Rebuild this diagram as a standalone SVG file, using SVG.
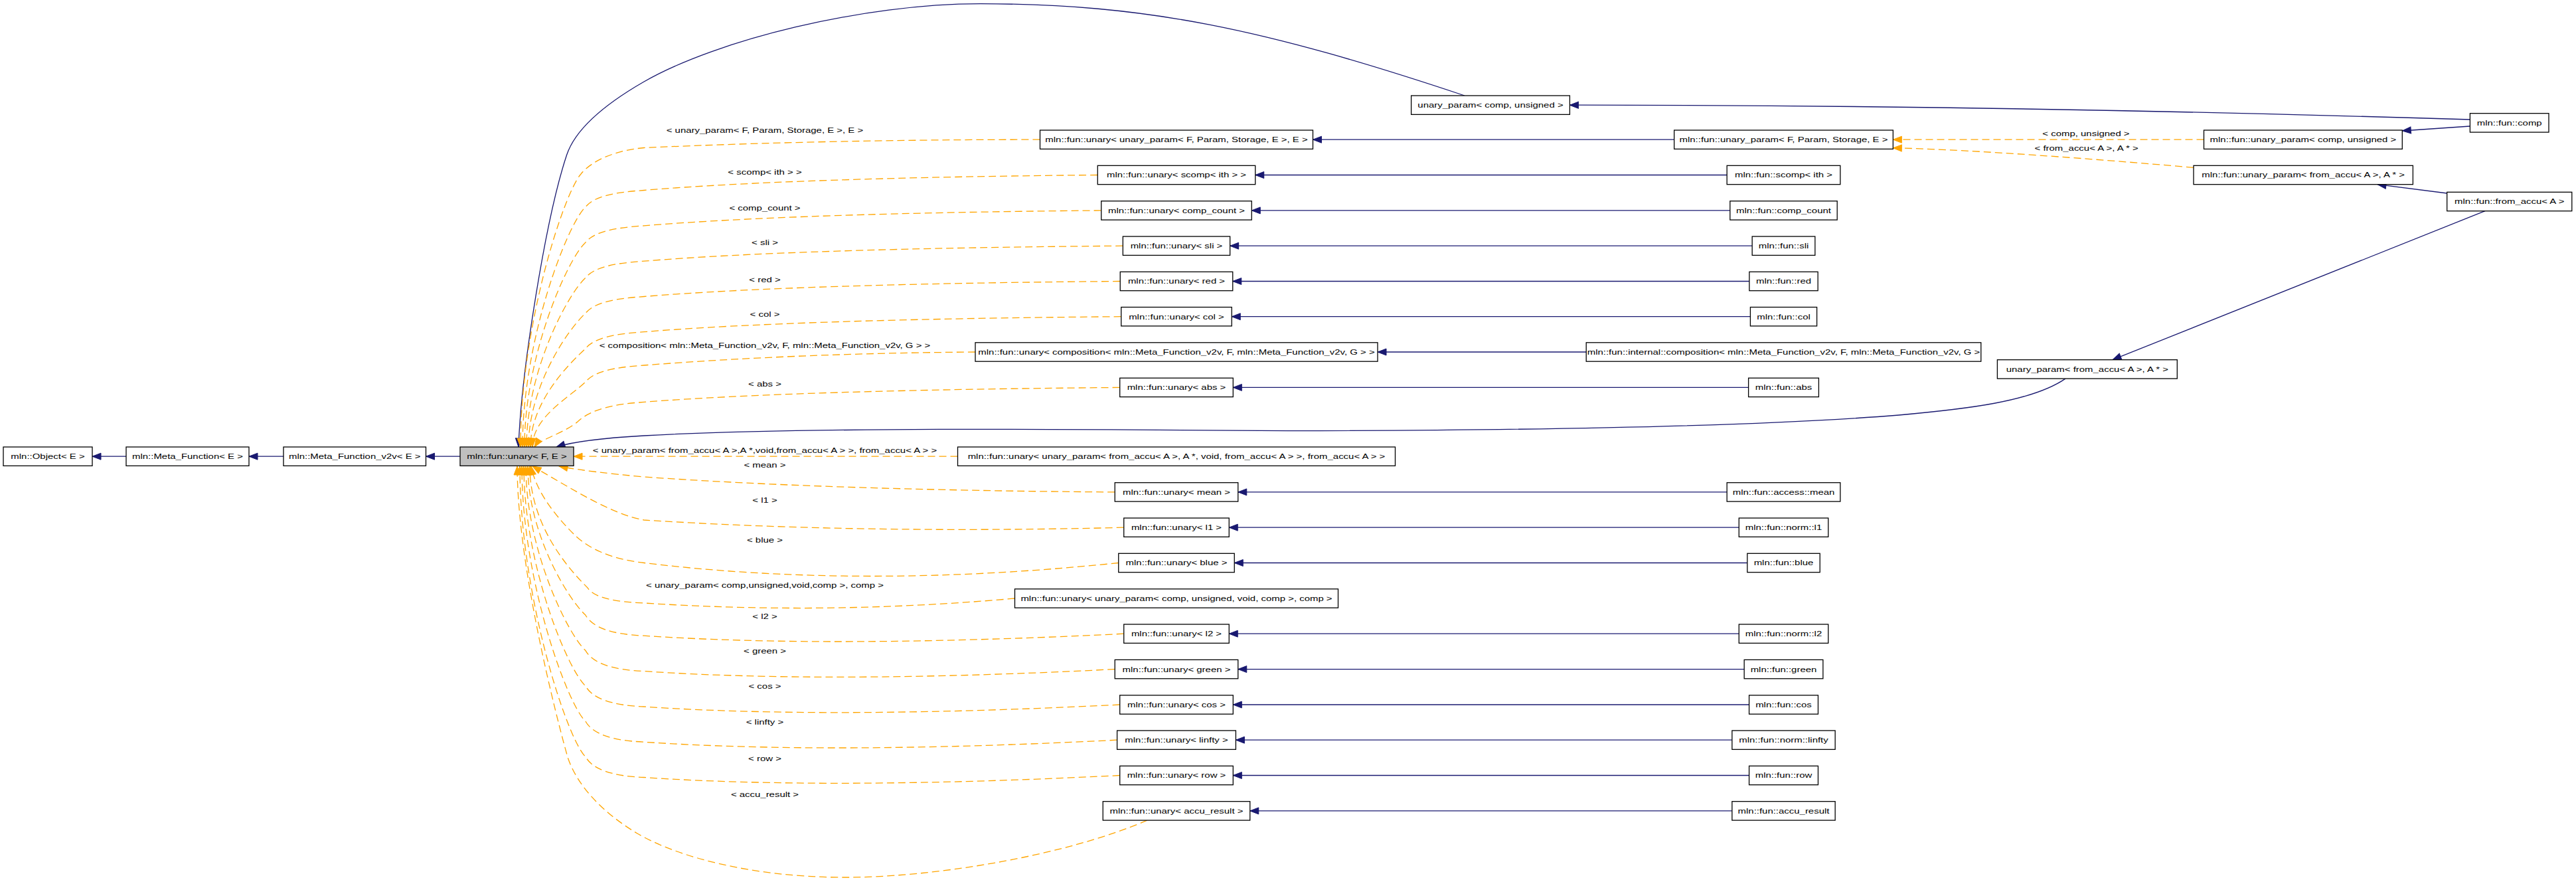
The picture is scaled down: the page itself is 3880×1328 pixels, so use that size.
<svg xmlns="http://www.w3.org/2000/svg" width="3880" height="1328" viewBox="0 0 3880 1328">
<style>
.n rect{fill:#fff;stroke:#000;stroke-width:1.3}
.g rect{fill:#bfbfbf;stroke:#000;stroke-width:1.3}
text{font-family:'Liberation Sans',Arial,sans-serif;font-size:11.5px;text-anchor:middle;fill:#000}
.eb{fill:none;stroke:#191970;stroke-width:1.3;marker-end:url(#mb)}
.eo{fill:none;stroke:#FFA500;stroke-width:1.3;stroke-dasharray:11,6;marker-end:url(#mo)}
</style>
<defs>
<marker id="mb" markerUnits="userSpaceOnUse" markerWidth="13" markerHeight="10" refX="13" refY="5" orient="auto" overflow="visible"><path d="M0,0 L13,5 L0,10 Z" fill="#191970" stroke="#191970" stroke-width="1"/></marker>
<marker id="mo" markerUnits="userSpaceOnUse" markerWidth="13" markerHeight="10" refX="13" refY="5" orient="auto" overflow="visible"><path d="M0,0 L13,5 L0,10 Z" fill="#FFA500" stroke="#FFA500" stroke-width="1"/></marker>
</defs>
<rect width="3880" height="1328" fill="#fff"/>
<g id="edges">
<path class="eb" d="M190,687.2 L139,687.2"/>
<path class="eb" d="M427,687.2 L375,687.2"/>
<path class="eb" d="M693,687.2 L641.5,687.2"/>
<path class="eb" d="M2521.65,210.2 L1977.5,210.2"/>
<path class="eb" d="M2601.15,263.5 L1890.75,263.5"/>
<path class="eb" d="M2605.8,316.9 L1885.25,316.9"/>
<path class="eb" d="M2639.15,370.2 L1852.65,370.2"/>
<path class="eb" d="M2634.85,423.5 L1856.75,423.5"/>
<path class="eb" d="M2636.4,476.7 L1855.25,476.7"/>
<path class="eb" d="M2389.2,530 L2075,530"/>
<path class="eb" d="M2633.6,583.4 L1857.3,583.4"/>
<path class="eb" d="M2601.15,740.9 L1864.75,740.9"/>
<path class="eb" d="M2619.25,794.2 L1851.25,794.2"/>
<path class="eb" d="M2631.8,847.5 L1859.25,847.5"/>
<path class="eb" d="M2619.25,954.2 L1851.25,954.2"/>
<path class="eb" d="M2627.15,1007.6 L1864.75,1007.6"/>
<path class="eb" d="M2634.55,1061 L1857.3,1061"/>
<path class="eb" d="M2608.85,1114.2 L1861.4,1114.2"/>
<path class="eb" d="M2634.55,1167.5 L1857.3,1167.5"/>
<path class="eb" d="M2608.85,1220.9 L1882.75,1220.9"/>
<path class="eb" d="M3720.4,180 Q3000,158 2364.4,158.2"/>
<path class="eb" d="M3720.4,190 L3618.3,197"/>
<path class="eb" d="M3685.7,291 L3581,277.7"/>
<path class="eb" d="M3743,317.7 L3182,541.7"/>
<path class="eb" d="M2206,144 C1906,44 1727,5.7 1477,5.7 C1300,5.7 1080,60 970,123 C930,146 870,185 853.7,233 C821.7,329 785,560 781,673"/>
<path class="eb" d="M3111,570.1 C3060,605 2960,616 2860,625 C2700,638 2400,648 1940,648.7 C1600,646 1200,643 970,656 C900,660 860,666 838,673"/>
<path class="eo" d="M3319.5,210.2 L2851.35,210.2"/>
<path class="eo" d="M3304,252.3 Q3000,226 2851.35,222.7"/>
<path class="eo" d="M1566.5,210.2 Q1250,210 970,222.5 C930,226 893,240 875,262 C850,290 784,488 784,673"/>
<path class="eo" d="M1653.25,263.5 Q1200,267.5 970,286.5 C925,289.5 895,295.5 882,311.5 C855,336.5 787,510.3 787,673"/>
<path class="eo" d="M1658.75,316.9 Q1200,320.9 970,339.9 C925,342.9 895,348.9 882,364.9 C855,389.9 790,534.4 790,673"/>
<path class="eo" d="M1691.35,370.2 Q1200,374.2 970,393.2 C925,396.2 895,402.2 882,418.2 C855,443.2 793,558.3 793,673"/>
<path class="eo" d="M1687.25,423.5 Q1200,427.5 970,446.5 C925,449.5 895,455.5 882,471.5 C855,496.5 796,582.3 796,673"/>
<path class="eo" d="M1688.75,476.7 Q1200,480.7 970,499.7 C925,502.7 895,508.7 882,524.7 C855,549.7 799,606.3 799,673"/>
<path class="eo" d="M1469,530 Q1200,532 970,550 C925,553 895,559 882,575 C855,600 802,628.9 802,673"/>
<path class="eo" d="M1686.7,583.4 Q1200,587.4 970,605.4 C925,608.4 890,616 870,635 C850,652 812,662 805,673"/>
<path class="eo" d="M1442.5,687.2 L864,687.2"/>
<path class="eo" d="M1679.25,740.9 Q1250,738 970,718 Q890,711 842,702"/>
<path class="eo" d="M1692.75,794.2 Q1300,804 970,783 C920,774 860,735 802,702"/>
<path class="eo" d="M1684.75,847.5 Q1300,887.5 970,847.5 C920,842 885,825 865,805 C845,785 808,745 800,702"/>
<path class="eo" d="M1528.5,901 Q1250,926 970,908 C925,906 895,900 885,885 C860,860 798,793.5 798,702"/>
<path class="eo" d="M1692.75,954.2 Q1250,976.2 970,957.2 C920,955.2 892,944.2 882,926.2 C855,901.2 795,802.9 795,702"/>
<path class="eo" d="M1679.25,1007.6 Q1250,1029.6 970,1010.6 C920,1008.6 892,997.6 882,979.6 C855,954.6 792,826.9 792,702"/>
<path class="eo" d="M1686.7,1061 Q1250,1083 970,1064 C920,1062 892,1051 882,1033 C855,1008 789,851 789,702"/>
<path class="eo" d="M1682.6,1114.2 Q1250,1136.2 970,1117.2 C920,1115.2 892,1104.2 882,1086.2 C855,1061.2 786,874.9 786,702"/>
<path class="eo" d="M1686.7,1167.5 Q1250,1189.5 970,1170.5 C920,1168.5 892,1157.5 882,1139.5 C855,1114.5 783,898.9 783,702"/>
<path class="eo" d="M1727.8,1235.1 C1600,1290 1400,1322 1267,1321 C1130,1320 1020,1290 960,1255 C910,1225 870,1185 855,1140 C838,1080 779,850 779,702"/>
<g transform="scale(1.3 1)">
<text x="886.15" y="200">&lt; unary_param&lt; F, Param, Storage, E &gt;, E &gt;</text>
<text x="886.15" y="263">&lt; scomp&lt; ith &gt; &gt;</text>
<text x="886.15" y="317">&lt; comp_count &gt;</text>
<text x="886.15" y="369">&lt; sli &gt;</text>
<text x="886.15" y="425">&lt; red &gt;</text>
<text x="886.15" y="477">&lt; col &gt;</text>
<text x="886.15" y="524">&lt; composition&lt; mln::Meta_Function_v2v, F, mln::Meta_Function_v2v, G &gt; &gt;</text>
<text x="886.15" y="582">&lt; abs &gt;</text>
<text x="886.15" y="682">&lt; unary_param&lt; from_accu&lt; A &gt;,A *,void,from_accu&lt; A &gt; &gt;, from_accu&lt; A &gt; &gt;</text>
<text x="886.15" y="704.5">&lt; mean &gt;</text>
<text x="886.15" y="757.5">&lt; l1 &gt;</text>
<text x="886.15" y="817.5">&lt; blue &gt;</text>
<text x="886.15" y="885.5">&lt; unary_param&lt; comp,unsigned,void,comp &gt;, comp &gt;</text>
<text x="886.15" y="932.5">&lt; l2 &gt;</text>
<text x="886.15" y="984">&lt; green &gt;</text>
<text x="886.15" y="1037">&lt; cos &gt;</text>
<text x="886.15" y="1091.5">&lt; linfty &gt;</text>
<text x="886.15" y="1146">&lt; row &gt;</text>
<text x="886.15" y="1200.5">&lt; accu_result &gt;</text>
<text x="2416.9" y="205">&lt; comp, unsigned &gt;</text>
<text x="2417.4" y="227.5">&lt; from_accu&lt; A &gt;, A * &gt;</text>
</g>
</g>
<g id="nodes">
<g id="n_obj" class="n"><rect x="5" y="673" width="134" height="28.4"/><text transform="scale(1.3 1)" x="55.38" y="691.2">mln::Object&lt; E &gt;</text></g>
<g id="n_mf" class="n"><rect x="190" y="673" width="185" height="28.4"/><text transform="scale(1.3 1)" x="217.31" y="691.2">mln::Meta_Function&lt; E &gt;</text></g>
<g id="n_mfv" class="n"><rect x="427" y="673" width="214.5" height="28.4"/><text transform="scale(1.3 1)" x="410.96" y="691.2">mln::Meta_Function_v2v&lt; E &gt;</text></g>
<g id="n_unary" class="g"><rect x="693" y="673" width="171" height="28.4"/><text transform="scale(1.3 1)" x="598.85" y="691.2">mln::fun::unary&lt; F, E &gt;</text></g>
<g id="n_upcu" class="n"><rect x="2125.6" y="144" width="238.8" height="28.4"/><text transform="scale(1.3 1)" x="1726.92" y="162.2">unary_param&lt; comp, unsigned &gt;</text></g>
<g id="n_comp" class="n"><rect x="3720.4" y="170.7" width="118.6" height="28.4"/><text transform="scale(1.3 1)" x="2907.46" y="188.9">mln::fun::comp</text></g>
<g id="n_upcu2" class="n"><rect x="3319.5" y="196" width="298.8" height="28.4"/><text transform="scale(1.3 1)" x="2668.4" y="214.2">mln::fun::unary_param&lt; comp, unsigned &gt;</text></g>
<g id="n_upfa" class="n"><rect x="3304" y="249.3" width="330.4" height="28.4"/><text transform="scale(1.3 1)" x="2668.6" y="267.5">mln::fun::unary_param&lt; from_accu&lt; A &gt;, A * &gt;</text></g>
<g id="n_fa" class="n"><rect x="3685.7" y="289.3" width="188.1" height="28.4"/><text transform="scale(1.3 1)" x="2907.5" y="307.5">mln::fun::from_accu&lt; A &gt;</text></g>
<g id="n_upfa2" class="n"><rect x="3008.4" y="541.7" width="270.9" height="28.4"/><text transform="scale(1.3 1)" x="2418.35" y="559.9">unary_param&lt; from_accu&lt; A &gt;, A * &gt;</text></g>
<g id="n_upF" class="n"><rect x="2521.65" y="196" width="329.7" height="28.4"/><text transform="scale(1.3 1)" x="2066.54" y="214.2">mln::fun::unary_param&lt; F, Param, Storage, E &gt;</text></g>
<g id="n_u1" class="n"><rect x="1566.5" y="196" width="411" height="28.4"/><text transform="scale(1.3 1)" x="1363.08" y="214.2">mln::fun::unary&lt; unary_param&lt; F, Param, Storage, E &gt;, E &gt;</text></g>
<g id="n_u2" class="n"><rect x="1653.25" y="249.3" width="237.5" height="28.4"/><text transform="scale(1.3 1)" x="1363.08" y="267.5">mln::fun::unary&lt; scomp&lt; ith &gt; &gt;</text></g>
<g id="n_scomp" class="n"><rect x="2601.15" y="249.3" width="170.7" height="28.4"/><text transform="scale(1.3 1)" x="2066.54" y="267.5">mln::fun::scomp&lt; ith &gt;</text></g>
<g id="n_u3" class="n"><rect x="1658.75" y="302.7" width="226.5" height="28.4"/><text transform="scale(1.3 1)" x="1363.08" y="320.9">mln::fun::unary&lt; comp_count &gt;</text></g>
<g id="n_cc" class="n"><rect x="2605.8" y="302.7" width="161.4" height="28.4"/><text transform="scale(1.3 1)" x="2066.54" y="320.9">mln::fun::comp_count</text></g>
<g id="n_u4" class="n"><rect x="1691.35" y="356" width="161.3" height="28.4"/><text transform="scale(1.3 1)" x="1363.08" y="374.2">mln::fun::unary&lt; sli &gt;</text></g>
<g id="n_sli" class="n"><rect x="2639.15" y="356" width="94.7" height="28.4"/><text transform="scale(1.3 1)" x="2066.54" y="374.2">mln::fun::sli</text></g>
<g id="n_u5" class="n"><rect x="1687.25" y="409.3" width="169.5" height="28.4"/><text transform="scale(1.3 1)" x="1363.08" y="427.5">mln::fun::unary&lt; red &gt;</text></g>
<g id="n_red" class="n"><rect x="2634.85" y="409.3" width="103.3" height="28.4"/><text transform="scale(1.3 1)" x="2066.54" y="427.5">mln::fun::red</text></g>
<g id="n_u6" class="n"><rect x="1688.75" y="462.5" width="166.5" height="28.4"/><text transform="scale(1.3 1)" x="1363.08" y="480.7">mln::fun::unary&lt; col &gt;</text></g>
<g id="n_col" class="n"><rect x="2636.4" y="462.5" width="100.2" height="28.4"/><text transform="scale(1.3 1)" x="2066.54" y="480.7">mln::fun::col</text></g>
<g id="n_u7" class="n"><rect x="1469" y="515.8" width="606" height="28.4"/><text transform="scale(1.3 1)" x="1363.08" y="534">mln::fun::unary&lt; composition&lt; mln::Meta_Function_v2v, F, mln::Meta_Function_v2v, G &gt; &gt;</text></g>
<g id="n_icomp" class="n"><rect x="2389.2" y="515.8" width="594.6" height="28.4"/><text transform="scale(1.3 1)" x="2066.54" y="534">mln::fun::internal::composition&lt; mln::Meta_Function_v2v, F, mln::Meta_Function_v2v, G &gt;</text></g>
<g id="n_u8" class="n"><rect x="1686.7" y="569.2" width="170.6" height="28.4"/><text transform="scale(1.3 1)" x="1363.08" y="587.4">mln::fun::unary&lt; abs &gt;</text></g>
<g id="n_abs" class="n"><rect x="2633.6" y="569.2" width="105.8" height="28.4"/><text transform="scale(1.3 1)" x="2066.54" y="587.4">mln::fun::abs</text></g>
<g id="n_u9" class="n"><rect x="1442.5" y="673" width="659" height="28.4"/><text transform="scale(1.3 1)" x="1363.08" y="691.2">mln::fun::unary&lt; unary_param&lt; from_accu&lt; A &gt;, A *, void, from_accu&lt; A &gt; &gt;, from_accu&lt; A &gt; &gt;</text></g>
<g id="n_u10" class="n"><rect x="1679.25" y="726.7" width="185.5" height="28.4"/><text transform="scale(1.3 1)" x="1363.08" y="744.9">mln::fun::unary&lt; mean &gt;</text></g>
<g id="n_mean" class="n"><rect x="2601.15" y="726.7" width="170.7" height="28.4"/><text transform="scale(1.3 1)" x="2066.54" y="744.9">mln::fun::access::mean</text></g>
<g id="n_u11" class="n"><rect x="1692.75" y="780" width="158.5" height="28.4"/><text transform="scale(1.3 1)" x="1363.08" y="798.2">mln::fun::unary&lt; l1 &gt;</text></g>
<g id="n_l1" class="n"><rect x="2619.25" y="780" width="134.5" height="28.4"/><text transform="scale(1.3 1)" x="2066.54" y="798.2">mln::fun::norm::l1</text></g>
<g id="n_u12" class="n"><rect x="1684.75" y="833.3" width="174.5" height="28.4"/><text transform="scale(1.3 1)" x="1363.08" y="851.5">mln::fun::unary&lt; blue &gt;</text></g>
<g id="n_blue" class="n"><rect x="2631.8" y="833.3" width="109.4" height="28.4"/><text transform="scale(1.3 1)" x="2066.54" y="851.5">mln::fun::blue</text></g>
<g id="n_u13" class="n"><rect x="1528.5" y="886.8" width="487" height="28.4"/><text transform="scale(1.3 1)" x="1363.08" y="905">mln::fun::unary&lt; unary_param&lt; comp, unsigned, void, comp &gt;, comp &gt;</text></g>
<g id="n_u14" class="n"><rect x="1692.75" y="940" width="158.5" height="28.4"/><text transform="scale(1.3 1)" x="1363.08" y="958.2">mln::fun::unary&lt; l2 &gt;</text></g>
<g id="n_l2" class="n"><rect x="2619.25" y="940" width="134.5" height="28.4"/><text transform="scale(1.3 1)" x="2066.54" y="958.2">mln::fun::norm::l2</text></g>
<g id="n_u15" class="n"><rect x="1679.25" y="993.4" width="185.5" height="28.4"/><text transform="scale(1.3 1)" x="1363.08" y="1011.6">mln::fun::unary&lt; green &gt;</text></g>
<g id="n_green" class="n"><rect x="2627.15" y="993.4" width="118.7" height="28.4"/><text transform="scale(1.3 1)" x="2066.54" y="1011.6">mln::fun::green</text></g>
<g id="n_u16" class="n"><rect x="1686.7" y="1046.8" width="170.6" height="28.4"/><text transform="scale(1.3 1)" x="1363.08" y="1065">mln::fun::unary&lt; cos &gt;</text></g>
<g id="n_cos" class="n"><rect x="2634.55" y="1046.8" width="103.9" height="28.4"/><text transform="scale(1.3 1)" x="2066.54" y="1065">mln::fun::cos</text></g>
<g id="n_u17" class="n"><rect x="1682.6" y="1100" width="178.8" height="28.4"/><text transform="scale(1.3 1)" x="1363.08" y="1118.2">mln::fun::unary&lt; linfty &gt;</text></g>
<g id="n_linfty" class="n"><rect x="2608.85" y="1100" width="155.3" height="28.4"/><text transform="scale(1.3 1)" x="2066.54" y="1118.2">mln::fun::norm::linfty</text></g>
<g id="n_u18" class="n"><rect x="1686.7" y="1153.3" width="170.6" height="28.4"/><text transform="scale(1.3 1)" x="1363.08" y="1171.5">mln::fun::unary&lt; row &gt;</text></g>
<g id="n_row" class="n"><rect x="2634.55" y="1153.3" width="103.9" height="28.4"/><text transform="scale(1.3 1)" x="2066.54" y="1171.5">mln::fun::row</text></g>
<g id="n_u19" class="n"><rect x="1661.25" y="1206.7" width="221.5" height="28.4"/><text transform="scale(1.3 1)" x="1363.08" y="1224.9">mln::fun::unary&lt; accu_result &gt;</text></g>
<g id="n_accu" class="n"><rect x="2608.85" y="1206.7" width="155.3" height="28.4"/><text transform="scale(1.3 1)" x="2066.54" y="1224.9">mln::fun::accu_result</text></g>
</g>
</svg>
